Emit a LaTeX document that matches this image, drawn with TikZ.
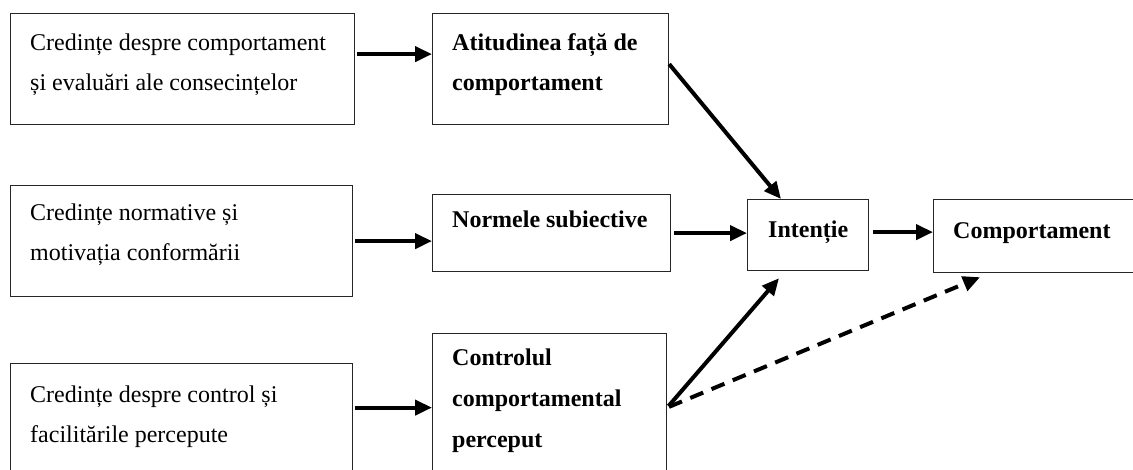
\documentclass[tikz,border=0pt]{standalone}
\usepackage{fontspec}
\setmainfont{Liberation Serif}
\usetikzlibrary{arrows.meta, positioning, calc}

\begin{document}
\begin{tikzpicture}[x=1pt,y=-1pt,>={Triangle[length=17pt,width=15pt]},
			box/.style={draw=black!85,line width=1.2pt,anchor=north west,inner sep=0pt},
			txt/.style={anchor=base west,align=left,inner sep=0pt,font=\fontsize{24}{40}\selectfont},
			bold txt/.style={txt,font=\fontsize{24}{40}\selectfont\bfseries},
			link/.style={->,line width=4pt,shorten <=2pt}]
			
			\useasboundingbox (0,0) rectangle (1133,469);
			\fill[white] (0,0) rectangle (1133,469);
			\clip (0,0) rectangle (1133,469);
			
			\node[box,minimum width=344pt,minimum height=111pt] (b1) at (10,13) {};
			\node[box,minimum width=342pt,minimum height=111pt] (b2) at (10,185) {};
			\node[box,minimum width=342pt,minimum height=150pt] (b3) at (10,363) {};
			\node[box,minimum width=236pt,minimum height=111pt] (att) at (432,13) {};
			\node[box,minimum width=238pt,minimum height=77pt] (norm) at (432,194) {};
			\node[box,minimum width=234pt,minimum height=148pt] (ctrl) at (432,333) {};
			\node[box,minimum width=121pt,minimum height=71pt] (int) at (747,199) {};
			\node[box,minimum width=220pt,minimum height=73pt] (comp) at (933,199) {};
			
			% base of a multi-line node is its last line
			\node[txt] (t1) at ($(b1.north west)+(20,77)$) {Credințe despre comportament\\și evaluări ale consecințelor};
			\node[txt] (t2) at ($(b2.north west)+(20,75)$) {Credințe normative și\\motivația conformării};
			\node[txt] (t3) at ($(b3.north west)+(20,79)$) {Credințe despre control și\\facilitările percepute};
			\node[bold txt] (tatt) at ($(att.north west)+(20,77)$) {Atitudinea față de\\comportament};
			\node[bold txt] (tnorm) at ($(norm.north west)+(20,33)$) {Normele subiective};
			\node[bold txt,font=\fontsize{24}{41}\selectfont\bfseries] (tctrl) at ($(ctrl.north west)+(20,114)$) {Controlul\\comportamental\\perceput};
			\node[bold txt] (tint) at ($(int.north west)+(21,38)$) {Intenție};
			\node[bold txt] (tcomp) at ($(comp.north west)+(20,39)$) {Comportament};
			
			\draw[link] ([yshift=15pt]b1.east) -- ([yshift=15pt]att.west);
			\draw[link] (b2.east) -- (norm.west |- b2.east);
			\draw[link] (b3.east |- ctrl.east) -- (ctrl.west);
			\draw[link,shorten <=3pt] (norm.east) -- (int.west |- norm.east);
			\draw[link,shorten <=4pt] ([yshift=3pt]int.east) -- ([yshift=3pt]int.east -| comp.west);
			\draw[link,shorten <=0pt] ([yshift=5pt]att.east) -- ($(int.north west)+(34,0)$);
			\draw[link] (ctrl.east) -- ($(int.south west)+(32,7)$);
			\draw[link,dash pattern=on 14pt off 9pt] (ctrl.east) -- ($(comp.south west)+(47,4)$);
		\end{tikzpicture}
\end{document}
